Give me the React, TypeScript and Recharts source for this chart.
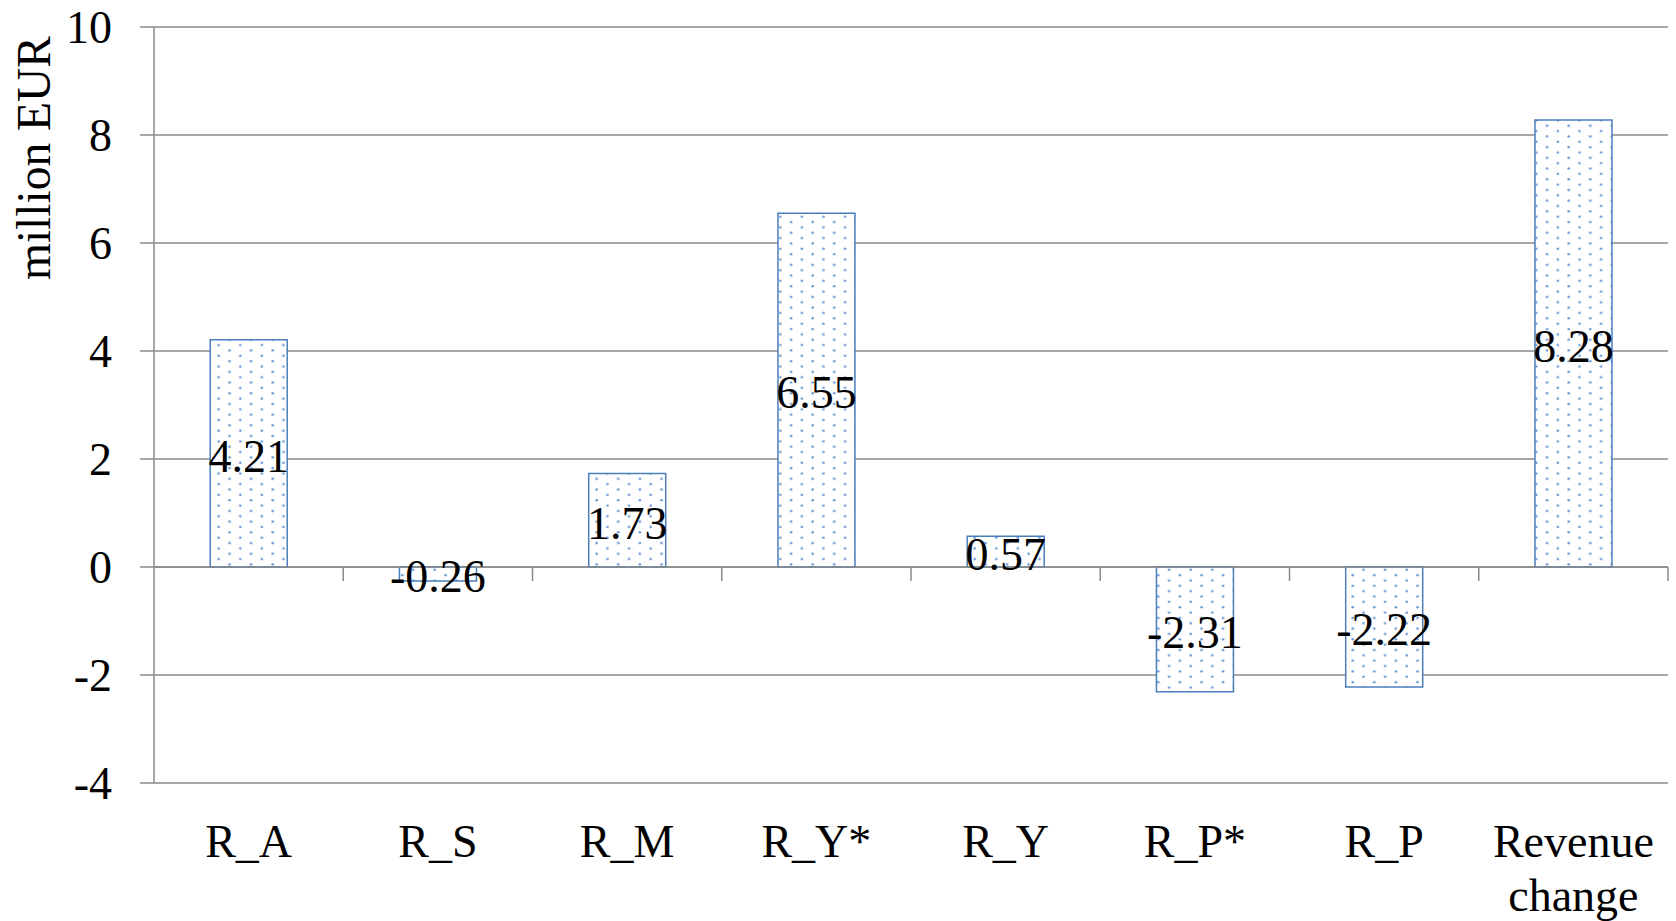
import React from 'react';
import {
  BarChart, Bar, XAxis, YAxis, CartesianGrid, ReferenceLine, LabelList, Label,
} from 'recharts';

// Revenue decomposition, million EUR
const categories = ['R_A', 'R_S', 'R_M', 'R_Y*', 'R_Y', 'R_P*', 'R_P', 'Revenue change'];
const values = [4.21, -0.26, 1.73, 6.55, 0.57, -2.31, -2.22, 8.28];
const yTicks = [-4, -2, 0, 2, 4, 6, 8, 10];
// category boundaries where the small tick marks hang below the zero line
const boundaries = [1, 2, 3, 4, 5, 6, 7, 8];

const data = categories.map((name, i) => ({ name, value: values[i], slot: i + 0.5 }));

const FONT = '"Liberation Serif", "Times New Roman", serif';
const GRID = '#8a8a8a';
const BAR_BLUE = '#4a7ebb';

function CategoryTick(props: any) {
  const { x, y, payload } = props;
  const lines = String(payload.value).split(' ');
  return (
    <text x={x} y={y} textAnchor="middle" fill="#000" fontSize={46} fontFamily={FONT}>
      {lines.map((line, i) => (
        <tspan key={i} x={x} dy={i === 0 ? 74 : 54}>{line}</tspan>
      ))}
    </text>
  );
}

function AxisTitle(props: any) {
  const { viewBox } = props;
  const x = viewBox.x + 50;
  const y = viewBox.y + 131;
  return (
    <text
      x={x}
      y={y}
      textAnchor="middle"
      transform={`rotate(-90, ${x}, ${y})`}
      fill="#000"
      fontSize={47.5}
      fontFamily={FONT}
    >
      million EUR
    </text>
  );
}

export default function App() {
  return (
    <div style={{ position: 'absolute', left: 0, top: 0, background: '#fff' }}>
      <BarChart
        width={1676}
        height={921}
        data={data}
        margin={{ top: 27, right: 8, bottom: 0, left: 0 }}
        barCategoryGap="29.7%"
      >
        <defs>
          <pattern id="dots" width="21.6" height="10.7" patternUnits="userSpaceOnUse">
            <rect width="21.6" height="10.7" fill="#fff" />
            <circle cx="2.7" cy="2.7" r="1.3" fill="#6a97d6" />
            <circle cx="13.5" cy="8.05" r="1.3" fill="#6a97d6" />
          </pattern>
        </defs>
        <CartesianGrid vertical={false} stroke={GRID} strokeWidth={1.5} />
        <XAxis
          dataKey="name"
          axisLine={false}
          tickLine={false}
          tickSize={0}
          tickMargin={0}
          height={138}
          interval={0}
          tick={<CategoryTick />}
        />
        <XAxis
          xAxisId="edges"
          dataKey="slot"
          type="number"
          domain={[0, 8]}
          allowDataOverflow
          hide
        />
        <YAxis
          domain={[-4, 10]}
          ticks={yTicks}
          width={154}
          tickSize={14}
          tickMargin={28}
          axisLine={{ stroke: GRID, strokeWidth: 1.5 }}
          tickLine={{ stroke: GRID, strokeWidth: 1.5 }}
          tick={{ fill: '#000', fontSize: 46, fontFamily: FONT }}
          interval={0}
        >
          <Label content={<AxisTitle />} />
        </YAxis>
        <ReferenceLine y={0} stroke={GRID} strokeWidth={1.5} />
        {boundaries.map((b) => (
          <ReferenceLine
            key={b}
            xAxisId="edges"
            segment={[{ x: b, y: 0 }, { x: b, y: -0.26 }]}
            stroke={GRID}
            strokeWidth={1.5}
            ifOverflow="visible"
          />
        ))}
        <Bar
          dataKey="value"
          fill="url(#dots)"
          stroke={BAR_BLUE}
          strokeWidth={1.5}
          isAnimationActive={false}
        >
          <LabelList
            dataKey="value"
            position="center"
            fill="#000"
            fontSize={46}
            fontFamily={FONT}
            dy={2}
            formatter={(v: any) => Number(v).toFixed(2)}
          />
        </Bar>
      </BarChart>
    </div>
  );
}
